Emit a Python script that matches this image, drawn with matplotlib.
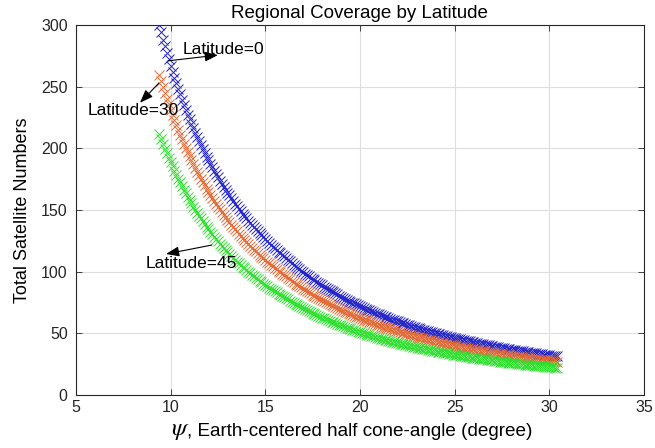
import numpy as np
import matplotlib
matplotlib.use('Agg')
import matplotlib.pyplot as plt

plt.rcParams['font.family'] = ['Liberation Sans', 'DejaVu Sans']
plt.rcParams['mathtext.fontset'] = 'stix'

# half cone-angle (deg), even tenths
psi = [9.4, 9.6, 9.8, 10.0, 10.2, 10.4, 10.6, 10.8, 11.0, 11.2, 11.4, 11.6, 11.8,
       12.0, 12.2, 12.4, 12.6, 12.8, 13.0, 13.2, 13.4, 13.6, 13.8, 14.0, 14.2, 14.4,
       14.6, 14.8, 15.0, 15.2, 15.4, 15.6, 15.8, 16.0, 16.2, 16.4, 16.6, 16.8, 17.0,
       17.2, 17.4, 17.6, 17.8, 18.0, 18.2, 18.4, 18.6, 18.8, 19.0, 19.2, 19.4, 19.6,
       19.8, 20.0, 20.2, 20.4, 20.6, 20.8, 21.0, 21.2, 21.4, 21.6, 21.8, 22.0, 22.2,
       22.4, 22.6, 22.8, 23.0, 23.2, 23.4, 23.6, 23.8, 24.0, 24.2, 24.4, 24.6, 24.8,
       25.0, 25.2, 25.4, 25.6, 25.8, 26.0, 26.2, 26.4, 26.6, 26.8, 27.0, 27.2, 27.4,
       27.6, 27.8, 28.0, 28.2, 28.4, 28.6, 28.8, 29.0, 29.2, 29.4, 29.6, 29.8, 30.0,
       30.2, 30.4]
# odd tenths
psi_b = [9.5, 9.7, 9.9, 10.1, 10.3, 10.5, 10.7, 10.9, 11.1, 11.3, 11.5, 11.7, 11.9,
         12.1, 12.3, 12.5, 12.7, 12.9, 13.1, 13.3, 13.5, 13.7, 13.9, 14.1, 14.3, 14.5,
         14.7, 14.9, 15.1, 15.3, 15.5, 15.7, 15.9, 16.1, 16.3, 16.5, 16.7, 16.9, 17.1,
         17.3, 17.5, 17.7, 17.9, 18.1, 18.3, 18.5, 18.7, 18.9, 19.1, 19.3, 19.5, 19.7,
         19.9, 20.1, 20.3, 20.5, 20.7, 20.9, 21.1, 21.3, 21.5, 21.7, 21.9, 22.1, 22.3,
         22.5, 22.7, 22.9, 23.1, 23.3, 23.5, 23.7, 23.9, 24.1, 24.3, 24.5, 24.7, 24.9,
         25.1, 25.3, 25.5, 25.7, 25.9, 26.1, 26.3, 26.5, 26.7, 26.9, 27.1, 27.3, 27.5,
         27.7, 27.9, 28.1, 28.3, 28.5, 28.7, 28.9, 29.1, 29.3, 29.5, 29.7, 29.9, 30.1,
         30.3]

# total satellites, latitude = 0
n_lat0 = [299.9, 288.3, 277.4, 267.1, 257.4, 248.2, 239.6, 231.4, 223.6, 216.2, 209.3,
          202.6, 196.3, 190.3, 184.6, 179.1, 173.9, 169.0, 164.2, 159.7, 155.3, 151.2,
          147.2, 143.4, 139.7, 136.2, 132.8, 129.6, 126.4, 123.4, 120.5, 117.8, 115.1,
          112.5, 109.8, 107.1, 104.5, 102.1, 99.7, 97.4, 95.2, 93.0, 91.0, 89.0, 87.0,
          85.2, 83.3, 81.6, 79.9, 78.2, 76.6, 75.1, 73.6, 72.1, 70.7, 69.3, 68.0, 66.7,
          65.5, 64.2, 63.0, 61.9, 60.8, 59.7, 58.6, 57.6, 56.6, 55.6, 54.6, 53.7, 52.8,
          51.9, 51.0, 50.2, 49.4, 48.6, 47.8, 47.0, 46.3, 45.5, 44.8, 44.1, 43.5, 42.8,
          42.1, 41.5, 40.9, 40.3, 39.7, 39.1, 38.5, 38.0, 37.4, 36.9, 36.4, 35.9, 35.4,
          34.9, 34.4, 34.0, 33.5, 33.1, 32.6, 32.2, 31.8, 31.4]
n_lat0_b = [294.0, 282.8, 272.2, 262.2, 252.7, 243.8, 235.4, 227.4, 219.9, 212.7, 205.9,
            199.4, 193.3, 187.4, 181.8, 176.5, 171.4, 166.6, 161.9, 157.5, 153.2, 149.2,
            145.3, 141.5, 137.9, 134.5, 131.2, 128.0, 124.9, 122.0, 119.1, 116.4, 113.8,
            111.1, 108.4, 105.8, 103.3, 100.9, 98.5, 96.3, 94.1, 92.0, 90.0, 88.0, 86.1,
            84.2, 82.5, 80.7, 79.1, 77.4, 75.9, 74.3, 72.9, 71.4, 70.0, 68.7, 67.4, 66.1,
            64.8, 63.6, 62.5, 61.3, 60.2, 59.1, 58.1, 57.1, 56.1, 55.1, 54.1, 53.2, 52.3,
            51.5, 50.6, 49.8, 49.0, 48.2, 47.4, 46.6, 45.9, 45.2, 44.5, 43.8, 43.1, 42.5,
            41.8, 41.2, 40.6, 40.0, 39.4, 38.8, 38.3, 37.7, 37.2, 36.7, 36.1, 35.6, 35.1,
            34.7, 34.2, 33.8, 33.3, 32.9, 32.4, 32.0, 31.6]

# latitude = 30
n_lat30 = [259.7, 249.7, 240.2, 231.3, 222.9, 214.9, 207.5, 200.4, 193.6, 187.2, 181.3,
           175.5, 170.0, 164.8, 159.9, 155.1, 150.6, 146.4, 142.2, 138.3, 134.5, 130.9,
           127.5, 124.2, 121.0, 117.9, 115.0, 112.2, 109.5, 106.9, 104.4, 102.0, 99.7,
           97.4, 95.1, 92.8, 90.5, 88.4, 86.3, 84.3, 82.4, 80.5, 78.8, 77.1, 75.3, 73.8,
           72.1, 70.7, 69.2, 67.7, 66.3, 65.0, 63.7, 62.4, 61.2, 60.0, 58.9, 57.8, 56.7,
           55.6, 54.6, 53.6, 52.7, 51.7, 50.7, 49.9, 49.0, 48.1, 47.3, 46.5, 45.7, 44.9,
           44.2, 43.5, 42.8, 42.1, 41.4, 40.7, 40.1, 39.4, 38.8, 38.2, 37.7, 37.1, 36.5,
           35.9, 35.4, 34.9, 34.4, 33.9, 33.3, 32.9, 32.4, 32.0, 31.5, 31.1, 30.7, 30.2,
           29.8, 29.4, 29.0, 28.7, 28.2, 27.9, 27.5, 27.2]
n_lat30_b = [254.6, 244.9, 235.7, 227.1, 218.8, 211.1, 203.9, 196.9, 190.4, 184.2, 178.3,
             172.7, 167.4, 162.3, 157.4, 152.8, 148.4, 144.3, 140.2, 136.4, 132.7, 129.2,
             125.8, 122.5, 119.4, 116.5, 113.6, 110.8, 108.2, 105.7, 103.1, 100.8, 98.5,
             96.2, 93.9, 91.6, 89.5, 87.4, 85.3, 83.4, 81.5, 79.7, 77.9, 76.2, 74.6, 72.9,
             71.4, 69.9, 68.5, 67.0, 65.7, 64.3, 63.1, 61.8, 60.6, 59.5, 58.4, 57.2, 56.1,
             55.1, 54.1, 53.1, 52.1, 51.2, 50.3, 49.4, 48.6, 47.7, 46.9, 46.1, 45.3, 44.6,
             43.8, 43.1, 42.4, 41.7, 41.0, 40.4, 39.7, 39.1, 38.5, 37.9, 37.3, 36.8, 36.2,
             35.7, 35.2, 34.6, 34.1, 33.6, 33.2, 32.6, 32.2, 31.8, 31.3, 30.8, 30.4, 30.1,
             29.6, 29.3, 28.8, 28.5, 28.1, 27.7, 27.4]

# latitude = 45
n_lat45 = [212.0, 203.8, 196.1, 188.8, 182.0, 175.5, 169.4, 163.6, 158.1, 152.9, 148.0,
           143.2, 138.8, 134.5, 130.5, 126.6, 122.9, 119.5, 116.1, 112.9, 109.8, 106.9,
           104.1, 101.4, 98.8, 96.3, 93.9, 91.6, 89.4, 87.2, 85.2, 83.3, 81.4, 79.5, 77.6,
           75.7, 73.9, 72.2, 70.5, 68.9, 67.3, 65.8, 64.3, 62.9, 61.5, 60.2, 58.9, 57.7,
           56.5, 55.3, 54.2, 53.1, 52.0, 51.0, 50.0, 49.0, 48.1, 47.2, 46.3, 45.4, 44.5,
           43.8, 43.0, 42.2, 41.4, 40.7, 40.0, 39.3, 38.6, 38.0, 37.3, 36.7, 36.1, 35.5,
           34.9, 34.4, 33.8, 33.2, 32.7, 32.2, 31.7, 31.2, 30.8, 30.3, 29.8, 29.3, 28.9,
           28.5, 28.1, 27.6, 27.2, 26.9, 26.4, 26.1, 25.7, 25.4, 25.0, 24.7, 24.3, 24.0,
           23.7, 23.4, 23.0, 22.8, 22.5, 22.2]
n_lat45_b = [207.9, 199.9, 192.4, 185.4, 178.7, 172.4, 166.4, 160.8, 155.5, 150.4, 145.6,
             141.0, 136.7, 132.5, 128.5, 124.8, 121.2, 117.8, 114.5, 111.4, 108.3, 105.5,
             102.7, 100.0, 97.5, 95.1, 92.8, 90.5, 88.3, 86.3, 84.2, 82.3, 80.5, 78.5, 76.6,
             74.8, 73.0, 71.3, 69.6, 68.1, 66.5, 65.0, 63.6, 62.2, 60.9, 59.5, 58.3, 57.1,
             55.9, 54.7, 53.7, 52.5, 51.5, 50.5, 49.5, 48.6, 47.7, 46.7, 45.8, 45.0, 44.2,
             43.3, 42.6, 41.8, 41.1, 40.4, 39.7, 39.0, 38.2, 37.6, 37.0, 36.4, 35.8, 35.2,
             34.6, 34.1, 33.5, 32.9, 32.5, 32.0, 31.5, 31.0, 30.5, 30.0, 29.6, 29.1, 28.7,
             28.3, 27.9, 27.4, 27.1, 26.7, 26.3, 25.9, 25.5, 25.2, 24.8, 24.5, 24.2, 23.9,
             23.5, 23.3, 22.9, 22.6, 22.3]

fig = plt.figure(figsize=(6.55, 4.48), dpi=100)
ax = fig.add_axes([0.116, 0.118, 0.867, 0.826])

series = [(n_lat0, n_lat0_b, '#2424c8'),
          (n_lat30, n_lat30_b, '#e26a36'),
          (n_lat45, n_lat45_b, '#30e030')]
for n_a, n_b, c in series:
    ax.plot(psi + psi_b, n_a + n_b, 'x', color=c, markersize=6.5, mew=0.7)

arrow = dict(arrowstyle='-|>,head_length=0.8,head_width=0.3', color='black', lw=0.8,
             shrinkA=0, shrinkB=0)
ax.annotate('', xy=(12.5, 275.7), xytext=(9.86, 271), arrowprops=arrow)
ax.annotate('', xy=(8.38, 237), xytext=(9.38, 253), arrowprops=arrow)
ax.annotate('', xy=(9.75, 114.4), xytext=(12.18, 121.7), arrowprops=arrow)
ax.text(10.65, 280.6, 'Latitude=0', fontsize=12.5, va='center', ha='left')
ax.text(5.63, 231, 'Latitude=30', fontsize=12.5, va='center', ha='left')
ax.text(8.7, 107, 'Latitude=45', fontsize=12.5, va='center', ha='left')

ax.set_xlim(5, 35)
ax.set_ylim(0, 300)
ax.set_xticks([5, 10, 15, 20, 25, 30, 35])
ax.set_yticks([0, 50, 100, 150, 200, 250, 300])
ax.grid(True, color='#dedede', linewidth=0.8)
ax.set_axisbelow(True)
ax.tick_params(direction='in', top=True, right=True, labelsize=11.5, colors='#262626',
               length=4, width=0.6)
ax.tick_params(axis='y', pad=6)
for s in ax.spines.values():
    s.set_color('#262626')
    s.set_linewidth(0.8)

ax.set_title('Regional Coverage by Latitude', fontsize=13.5, pad=5)
ax.set_ylabel('Total Satellite Numbers', fontsize=13, labelpad=7)
xl = ax.set_xlabel(', Earth-centered half cone-angle (degree)', fontsize=13.6, labelpad=6)

# bigger psi symbol in front of the x label
fig.canvas.draw()
bb = xl.get_window_extent()
fig.text(bb.x0 + 2, bb.y0 - 2, r'$\psi$', fontsize=18, ha='right', va='bottom',
         transform=None)

fig.savefig('out.png', dpi=100)
